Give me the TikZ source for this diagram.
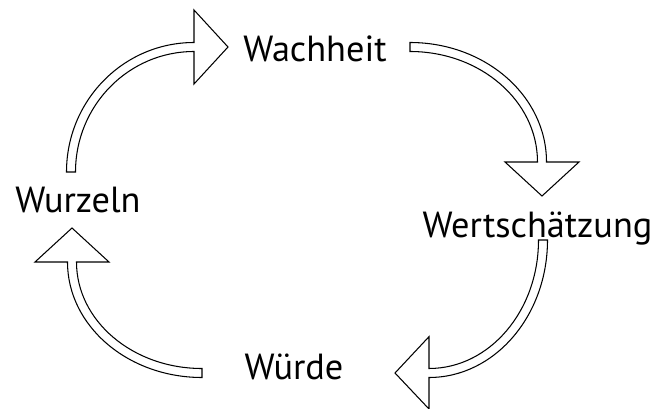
\documentclass[tikz,border=0pt]{standalone}
\usepackage{fontspec}
\setmainfont{PT Sans}
\usepackage{tikz}
\usetikzlibrary{positioning}
\tikzset{
  cyword/.style={anchor=base, inner sep=0pt, font=\fontsize{31}{36}\selectfont},
  cyarrow/.style={draw=black, fill=white, line width=0.9pt, line join=miter}
}
\begin{document}
\begin{tikzpicture}
  \useasboundingbox (0,0) rectangle (19.65cm,-12.27cm);
  \node[cyword] (wach) at (9.45cm,-1.86cm) {Wachheit};
  \node[cyword] (wert) at (16.125cm,-7.11cm) {Wertschätzung};
  \node[cyword] (wuerde) at (8.82cm,-11.37cm) {Würde};
  \node[cyword] (wurz) at (2.34cm,-6.36cm) {Wurzeln};
  % Wurzeln -> Wachheit
  \draw[cyarrow] (1.995cm,-5.16cm) arc[start angle=180, end angle=90, x radius=3.825cm, y radius=3.885cm]
    -- (5.82cm,-0.30cm) -- (6.84cm,-1.41cm) -- (5.82cm,-2.52cm) -- (5.82cm,-1.545cm)
    arc[start angle=90, end angle=180, x radius=3.555cm, y radius=3.615cm] -- cycle;
  % Wachheit -> Wertschaetzung
  \draw[cyarrow] (12.30cm,-1.275cm) arc[start angle=90, end angle=0, x radius=4.095cm, y radius=3.585cm]
    -- (17.37cm,-4.86cm) -- (16.26cm,-5.88cm) -- (15.15cm,-4.86cm) -- (16.125cm,-4.86cm)
    arc[start angle=0, end angle=90, x radius=3.825cm, y radius=3.315cm] -- cycle;
  % Wertschaetzung -> Wuerde
  \draw[cyarrow] (16.425cm,-7.20cm) arc[start angle=0, end angle=-90, x radius=3.555cm, y radius=4.125cm]
    -- (12.87cm,-12.27cm) -- (11.85cm,-11.19cm) -- (12.87cm,-10.10cm) -- (12.87cm,-11.055cm)
    arc[start angle=-90, end angle=0, x radius=3.285cm, y radius=3.855cm] -- cycle;
  % Wuerde -> Wurzeln
  \draw[cyarrow] (6.06cm,-11.325cm) arc[start angle=-90, end angle=-180, x radius=4.035cm, y radius=3.465cm]
    -- (1.05cm,-7.86cm) -- (2.16cm,-6.84cm) -- (3.27cm,-7.86cm) -- (2.295cm,-7.86cm)
    arc[start angle=180, end angle=270, x radius=3.765cm, y radius=3.195cm] -- cycle;
\end{tikzpicture}
\end{document}
